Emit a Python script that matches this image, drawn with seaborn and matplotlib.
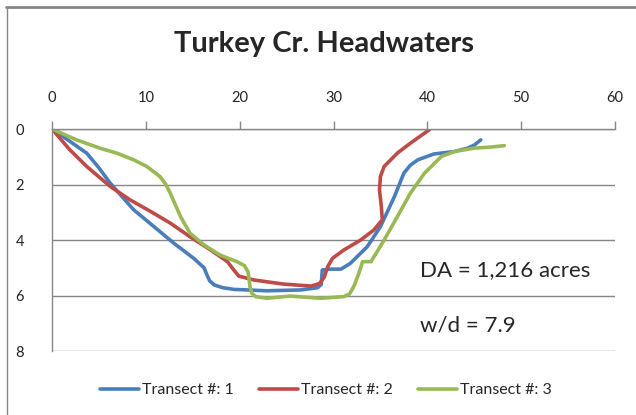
import numpy as np
import pandas as pd
import matplotlib
import matplotlib.pyplot as plt
import seaborn as sns
from matplotlib.lines import Line2D

# --- DATA ---
t1_x = [0, 1.5, 3.7, 5.0, 6.2, 8.7, 10.8, 13.0, 15.1, 16.2, 16.5, 16.8, 17.3, 18.2, 19.4, 22.9,
        26.5, 28.3, 28.7, 28.8, 29.5, 30.8, 31.8, 33.6, 35.0, 36.5, 37.5, 38.2, 39.0, 40.7,
        42.9, 44.3, 45.0, 45.7]
t1_y = [0, 0.35, 0.87, 1.4, 1.95, 2.91, 3.5, 4.12, 4.66, 5.0, 5.25, 5.47, 5.62, 5.72, 5.78, 5.83,
        5.8, 5.72, 5.6, 5.08, 5.05, 5.05, 4.84, 4.24, 3.52, 2.43, 1.59, 1.3, 1.11, 0.9,
        0.81, 0.69, 0.58, 0.39]

t2_x = [0, 1.9, 3.7, 6.2, 8.3, 10.5, 12.6, 14.7, 16.9, 18.7, 19.3, 19.9, 21.5, 24.7, 27.6, 28.5,
        29.0, 29.4, 29.9, 31.1, 32.9, 34.3, 35.2, 35.1, 34.9, 35.0, 35.4, 36.8, 38.2, 40.2]
t2_y = [0, 0.75, 1.35, 2.07, 2.55, 2.97, 3.39, 3.88, 4.36, 4.78, 5.05, 5.3, 5.44, 5.59, 5.66, 5.57,
        5.35, 4.95, 4.66, 4.36, 4.0, 3.64, 3.27, 2.8, 2.2, 1.71, 1.35, 0.87, 0.51, 0.03]

t3_x = [0, 2.6, 5.1, 6.9, 8.7, 10.1, 11.5, 12.1, 12.6, 13.7, 14.7, 16.2, 17.9, 19.7, 20.5, 20.9,
        21.1, 21.3, 21.7, 22.9, 25.4, 28.6, 31.1, 31.7, 32.2, 32.7, 33.1, 34.0, 35.4, 36.8,
        38.2, 39.7, 41.5, 42.9, 45.0, 46.8, 48.2]
t3_y = [0, 0.39, 0.69, 0.87, 1.11, 1.35, 1.71, 1.98, 2.31, 3.16, 3.75, 4.18, 4.54, 4.78, 4.92, 5.15,
        5.68, 5.92, 6.04, 6.1, 6.02, 6.1, 6.04, 5.95, 5.65, 5.2, 4.78, 4.78, 4.0, 3.16,
        2.31, 1.59, 0.99, 0.81, 0.69, 0.65, 0.6]

series = ["Transect #: 1", "Transect #: 2", "Transect #: 3"]
colors = ["#4A7EBB", "#BE4B48", "#98B954"]
title = "Turkey Cr. Headwaters"
notes = ["DA = 1,216 acres", "w/d = 7.9"]

df = pd.concat([
    pd.DataFrame({"dist": x, "depth": y, "series": s})
    for x, y, s in zip([t1_x, t2_x, t3_x], [t1_y, t2_y, t3_y], series)
])

# --- STYLE ---
sns.set_style("white")
plt.rcParams["font.family"] = ["Lato", "DejaVu Sans"]
grey = "#868686"

fig = plt.figure(figsize=(6.36, 4.15), dpi=100)
ax = fig.add_axes([52 / 636, 1 - 351 / 415, 563 / 636, 222 / 415])

sns.lineplot(data=df, x="dist", y="depth", hue="series", palette=colors,
             sort=False, estimator=None, linewidth=2.6, ax=ax, legend=False)
for line in ax.lines:
    line.set_solid_joinstyle("round")
    line.set_solid_capstyle("round")

ax.set_xlim(0, 60)
ax.set_ylim(8, 0)
ax.set_xticks(np.arange(0, 61, 10))
ax.set_yticks(np.arange(0, 9, 2))
ax.xaxis.tick_top()
ax.set_xlabel("")
ax.set_ylabel("")
ax.tick_params(axis="both", length=6, width=1, color=grey, labelsize=10.5,
               labelcolor="#222222", direction="out")
ax.tick_params(axis="x", pad=11)
ax.tick_params(axis="y", pad=14)
ax.grid(axis="y", color=grey, linewidth=1)
ax.grid(axis="x", visible=False)
for side in ["right", "bottom"]:
    ax.spines[side].set_visible(False)
for side in ["top", "left"]:
    ax.spines[side].set_color(grey)
    ax.spines[side].set_linewidth(1)

ax.text(0.654, 0.365, notes[0], transform=ax.transAxes, fontsize=16, va="center", ha="left")
ax.text(0.654, 0.117, notes[1], transform=ax.transAxes, fontsize=16, va="center", ha="left")

fig.text(324 / 636, 1 - 44 / 415, title, fontsize=21, fontweight="bold", ha="center", va="center")

handles = [Line2D([0], [0], color=c, lw=2.6) for c in colors]
fig.legend(handles, series, loc="center", bbox_to_anchor=(326 / 636, 1 - 390 / 415), ncol=3,
           frameon=False, fontsize=11.5, handlelength=2.4, handletextpad=0.2, columnspacing=1.6)

# chart-area border (top and left visible only)
fig.add_artist(Line2D([6 / 636, 1], [1 - 7 / 415, 1 - 7 / 415], color=grey, lw=2, transform=fig.transFigure))
fig.add_artist(Line2D([6.5 / 636, 6.5 / 636], [0, 1 - 7 / 415], color=grey, lw=1, transform=fig.transFigure))

fig.savefig("out.png", dpi=100)
